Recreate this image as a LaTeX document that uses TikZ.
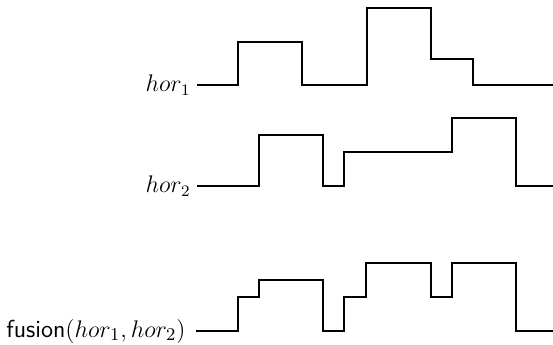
\documentclass[tikz,border=0pt]{standalone}
\usepackage{amsmath}
\usepackage{tikz}

\begin{document}
\begin{tikzpicture}[x=0.5pt, y=-0.5pt,
		signal/.style={line width=0.6pt, line join=miter},
		lab/.style={left, inner sep=3pt, font=\large}]
			\useasboundingbox (0,0) rectangle (553,344);
			\draw [signal] (197,85) -- (238,85) -- (238,42) -- (302,42) -- (302,85) -- (367,85) -- (367,8) -- (431,8) -- (431,59) -- (473,59) -- (473,85) -- (553,85);
			\draw [signal] (197,186) -- (259,186) -- (259,135) -- (323,135) -- (323,186) -- (344,186) -- (344,152) -- (452,152) -- (452,118) -- (516,118) -- (516,186) -- (553,186);
			\draw [signal] (196,331) -- (238,331) -- (238,297) -- (259,297) -- (259,280) -- (323,280) -- (323,331) -- (344,331) -- (344,297) -- (366,297) -- (366,263) -- (431,263) -- (431,297) -- (452,297) -- (452,263) -- (516,263) -- (516,331) -- (553,331);
			\node [lab] (hor1) at (197,85) {$hor_1$};
			\node [lab] (hor2) at (197,186) {$hor_2$};
			\node [lab, inner sep=5pt, font=\fontsize{12.3}{14}\selectfont] (fus) at (196,331) {$\textsf{fusion}(hor_1, hor_2)$};
		\end{tikzpicture}
\end{document}
